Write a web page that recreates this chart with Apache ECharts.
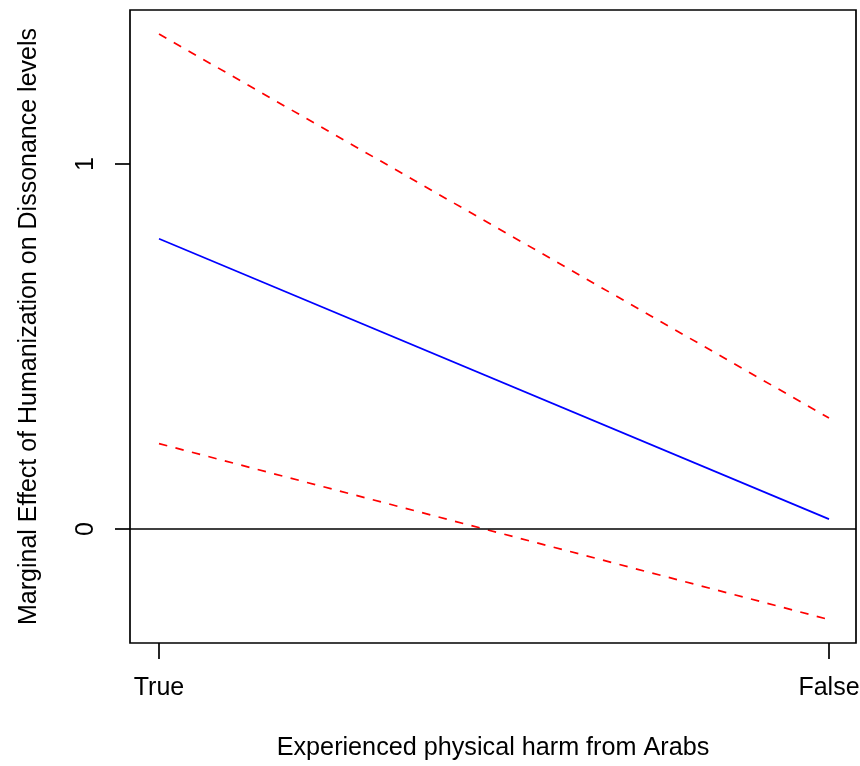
<!DOCTYPE html>
<html>
<head>
<meta charset="utf-8">
<script src="https://cdn.jsdelivr.net/npm/echarts@6/dist/echarts.min.js"></script>
<style>
  html, body { margin: 0; padding: 0; background: #fff; }
  #chart { width: 860px; height: 766px; }
</style>
</head>
<body>
<div id="chart"></div>
<script>
const categories = ['True', 'False'];
const categoryPositions = [0, 1];
const effect = [0.795, 0.027];
const upperBound = [1.356, 0.304];
const lowerBound = [0.234, -0.248];
const yTicks = [0, 1];
const xTitle = 'Experienced physical harm from Arabs';
const yTitle = 'Marginal Effect of Humanization on Dissonance levels';

const toPairs = arr => categoryPositions.map((x, i) => [x, arr[i]]);
const FONT = 'Liberation Sans, Arial, Helvetica, sans-serif';
const LW = 1.7;

const chart = echarts.init(document.getElementById('chart'), null, { renderer: 'canvas' });
chart.setOption({
  backgroundColor: '#ffffff',
  animation: false,
  grid: {
    left: 130, top: 10, right: 4, bottom: 123,
    outerBoundsMode: 'none',
    containLabel: false,
    show: true, borderColor: '#000', borderWidth: LW, backgroundColor: 'transparent'
  },
  xAxis: {
    type: 'value',
    min: -0.0433, max: 1.0403,
    name: xTitle,
    nameLocation: 'middle',
    nameGap: 93,
    nameTextStyle: { fontFamily: FONT, fontSize: 25.2, color: '#000' },
    axisLine: { show: false, onZero: false },
    splitLine: { show: false },
    axisTick: { show: true, length: 16, inside: false, customValues: categoryPositions,
      lineStyle: { color: '#000', width: LW } },
    axisLabel: { show: true, margin: 33, fontFamily: FONT, fontSize: 25, color: '#000',
      customValues: categoryPositions,
      formatter: v => categories[categoryPositions.indexOf(Math.round(v))] || '' }
  },
  yAxis: {
    type: 'value',
    min: -0.3123, max: 1.4219,
    name: yTitle,
    nameLocation: 'middle',
    nameRotate: 90,
    nameGap: 88,
    nameTextStyle: { fontFamily: FONT, fontSize: 25, color: '#000' },
    axisLine: { show: false, onZero: false },
    splitLine: { show: false },
    axisTick: { show: true, length: 15, inside: false, customValues: yTicks,
      lineStyle: { color: '#000', width: LW } },
    axisLabel: { show: true, rotate: 90, margin: 31, fontFamily: FONT, fontSize: 25, color: '#000',
      customValues: yTicks, formatter: v => String(v) }
  },
  series: [
    {
      type: 'line', name: 'effect', data: toPairs(effect),
      symbol: 'none', lineStyle: { color: '#0000ff', width: LW },
      markLine: {
        silent: true, symbol: 'none', label: { show: false },
        lineStyle: { color: '#000', width: LW, type: 'solid' },
        data: [{ yAxis: 0 }]
      }
    },
    {
      type: 'line', name: 'upper', data: toPairs(upperBound),
      symbol: 'none', lineStyle: { color: '#ff0000', width: LW, type: [8.5, 8.5] }
    },
    {
      type: 'line', name: 'lower', data: toPairs(lowerBound),
      symbol: 'none', lineStyle: { color: '#ff0000', width: LW, type: [8.5, 8.5] }
    }
  ]
});
</script>
</body>
</html>
